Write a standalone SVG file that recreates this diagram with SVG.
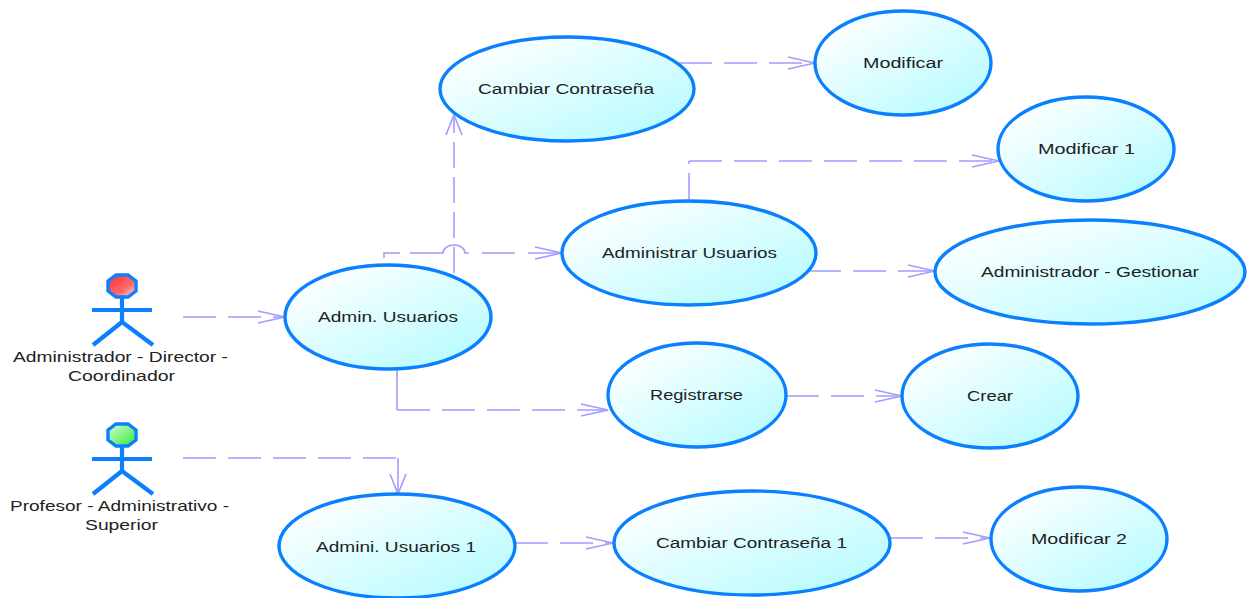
<svg xmlns="http://www.w3.org/2000/svg" width="1256" height="598" viewBox="0 0 1256 598">
<style>
.uc{fill:url(#g);stroke:#0a80ff;stroke-width:3.4}
.c{fill:none;stroke:#a29cff;stroke-width:1.6;stroke-dasharray:33 12}
.v{fill:none;stroke:#a29cff;stroke-width:1.6;stroke-dasharray:26 9}
.a{fill:none;stroke:#a29cff;stroke-width:1.6}
.s{fill:none;stroke:#0a80ff;stroke-width:4.2}
.h{stroke:#0a80ff;stroke-width:3.4}
text{font-family:"Liberation Sans",Arial,sans-serif;font-size:14px;fill:#222;text-anchor:middle}
</style>
<defs>
<linearGradient id="g" x1="0.1" y1="0.1" x2="0.9" y2="0.9"><stop offset="0" stop-color="#fff"/><stop offset="1" stop-color="#b8fbff"/></linearGradient>
<linearGradient id="r" x1="0" y1="0" x2="1" y2="1"><stop offset="0" stop-color="#f33"/><stop offset="0.6" stop-color="#f66"/><stop offset="1" stop-color="#ffe0e0"/></linearGradient>
<linearGradient id="gr" x1="0" y1="0" x2="1" y2="1"><stop offset="0" stop-color="#d8ffd8"/><stop offset="1" stop-color="#2ee82e"/></linearGradient>
<marker id="m" markerUnits="userSpaceOnUse" markerWidth="32" markerHeight="20" refX="29" refY="10" orient="auto"><path class="a" d="M2 4L29 10L2 16"/></marker>
<marker id="n" markerUnits="userSpaceOnUse" markerWidth="26" markerHeight="24" refX="23" refY="12" orient="auto"><path class="a" d="M3 4L23 12L3 20"/></marker>
</defs>
<g id="connectors">
<path class="c" marker-end="url(#m)" d="M183 317H285"/>
<path class="a" d="M384 258V253H400M410 253H443A11 8 0 0 1 465 253H469M482 253H515"/>
<path class="a" marker-end="url(#m)" d="M528 253H562"/>
<path class="v" marker-end="url(#n)" d="M454 273V115"/>
<path class="c" marker-end="url(#m)" d="M679 63H815"/>
<path class="v" d="M689 199V161"/>
<path class="c" marker-end="url(#m)" d="M689 161H999"/>
<path class="c" marker-end="url(#m)" d="M808 271H935"/>
<path class="a" d="M397 370V410"/>
<path class="c" marker-end="url(#m)" d="M397 410H608"/>
<path class="c" marker-end="url(#m)" d="M786 396H902"/>
<path class="c" d="M183 458H398"/>
<path class="a" marker-end="url(#n)" d="M398 458V494"/>
<path class="c" marker-end="url(#m)" d="M515 543H613"/>
<path class="c" marker-end="url(#m)" d="M890 538H990"/>
</g>
<g id="actor-admin">
<polygon class="h" fill="url(#r)" points="116,275 128,275 136,281 136,291 128,297 116,297 108,291 108,281"/>
<path class="s" d="M122 298V322M92 310H152M122 322L93 345M122 322L153 345"/>
<text x="120.5" y="362" textLength="215" lengthAdjust="spacingAndGlyphs">Administrador - Director -</text>
<text x="121.5" y="381" textLength="107" lengthAdjust="spacingAndGlyphs">Coordinador</text>
</g>
<g id="actor-profesor">
<polygon class="h" fill="url(#gr)" points="116,424 128,424 136,430 136,440 128,446 116,446 108,440 108,430"/>
<path class="s" d="M122 447V471M92 459H152M122 471L93 494M122 471L153 494"/>
<text x="119.5" y="511" textLength="219" lengthAdjust="spacingAndGlyphs">Profesor - Administrativo -</text>
<text x="121.5" y="530" textLength="73" lengthAdjust="spacingAndGlyphs">Superior</text>
</g>
<g id="uc-admin-usuarios"><ellipse class="uc" cx="388" cy="317" rx="103" ry="52"/><text x="388" y="322" textLength="140" lengthAdjust="spacingAndGlyphs">Admin. Usuarios</text></g>
<g id="uc-cambiar"><ellipse class="uc" cx="567" cy="89" rx="127" ry="52"/><text x="566" y="94" textLength="176" lengthAdjust="spacingAndGlyphs">Cambiar Contraseña</text></g>
<g id="uc-modificar"><ellipse class="uc" cx="903" cy="63" rx="88" ry="52"/><text x="903" y="68" textLength="80" lengthAdjust="spacingAndGlyphs">Modificar</text></g>
<g id="uc-modificar1"><ellipse class="uc" cx="1086" cy="149" rx="88" ry="52"/><text x="1086.5" y="154" textLength="97" lengthAdjust="spacingAndGlyphs">Modificar 1</text></g>
<g id="uc-administrar"><ellipse class="uc" cx="689" cy="253" rx="127" ry="52"/><text x="689.5" y="258" textLength="175" lengthAdjust="spacingAndGlyphs">Administrar Usuarios</text></g>
<g id="uc-gestionar"><ellipse class="uc" cx="1090" cy="272" rx="155" ry="52"/><text x="1090" y="277" textLength="218" lengthAdjust="spacingAndGlyphs">Administrador - Gestionar</text></g>
<g id="uc-registrarse"><ellipse class="uc" cx="697" cy="395" rx="89" ry="52"/><text x="696.5" y="400" textLength="93" lengthAdjust="spacingAndGlyphs">Registrarse</text></g>
<g id="uc-crear"><ellipse class="uc" cx="990" cy="396" rx="88" ry="52"/><text x="990" y="401" textLength="46" lengthAdjust="spacingAndGlyphs">Crear</text></g>
<g id="uc-admini1"><ellipse class="uc" cx="397" cy="546" rx="118" ry="52"/><text x="396" y="552" textLength="160" lengthAdjust="spacingAndGlyphs">Admini. Usuarios 1</text></g>
<g id="uc-cambiar1"><ellipse class="uc" cx="752" cy="543" rx="138" ry="52"/><text x="751.5" y="548" textLength="191" lengthAdjust="spacingAndGlyphs">Cambiar Contraseña 1</text></g>
<g id="uc-modificar2"><ellipse class="uc" cx="1079" cy="539" rx="88" ry="52"/><text x="1079" y="544" textLength="96" lengthAdjust="spacingAndGlyphs">Modificar 2</text></g>
</svg>
